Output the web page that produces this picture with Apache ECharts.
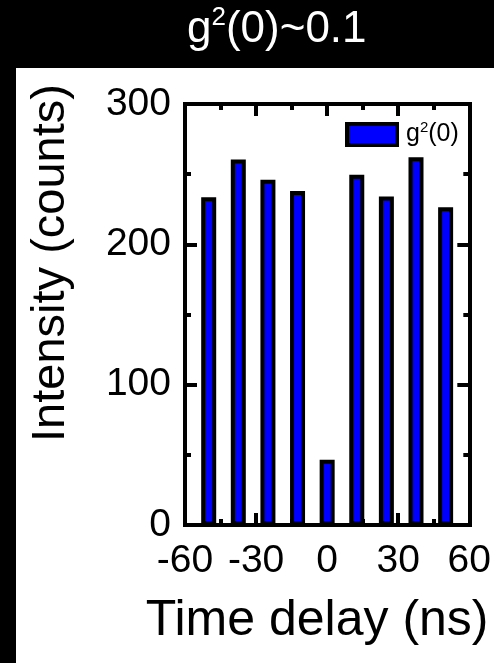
<!DOCTYPE html>
<html>
<head>
<meta charset="utf-8">
<script src="https://cdn.jsdelivr.net/npm/echarts@6/dist/echarts.min.js"></script>
<style>html,body{margin:0;padding:0;background:#000;}#c{width:494px;height:663px;}</style>
</head>
<body>
<div id="c"></div>
<script>
var delays = [-50, -37.5, -25, -12.5, 0, 12.5, 25, 37.5, 50];
var counts = [233.5, 260.5, 246, 238, 46.5, 249.5, 234, 262, 226.5];
var xTicks = [-60, -30, 0, 30, 60];
var yTicks = [0, 100, 200, 300];

var FONT = '"Liberation Sans", Arial, sans-serif';
var chart = echarts.init(document.getElementById('c'), null, {renderer: 'canvas'});
var data = delays.map(function (d, i) { return [d, counts[i]]; });
var tickStyle = {show: true, inside: true, length: 12, lineStyle: {color: '#000', width: 4}};
var minorStyle = {show: true, splitNumber: 2, length: 6, lineStyle: {color: '#000', width: 4}};
var lineStyle = {show: true, onZero: false, lineStyle: {color: '#000', width: 4, cap: 'square'}};

chart.setOption({
  backgroundColor: '#000',
  animation: false,
  title: {
    text: '{a|g}{s|2}{a|(0)~0.1}',
    left: 187, top: 5,
    padding: 0,
    textStyle: {
      fontWeight: 'normal',
      rich: {
        a: {fontFamily: FONT, fontSize: 44, fontWeight: 'normal', color: '#fff', lineHeight: 50},
        s: {fontFamily: FONT, fontSize: 26, fontWeight: 'normal', color: '#fff', verticalAlign: 'top', lineHeight: 40}
      }
    }
  },
  graphic: [{
    type: 'rect', left: 16, top: 68, z: -100,
    shape: {width: 478, height: 595},
    style: {fill: '#fff'}
  }],
  legend: {
    left: 345, top: 120, padding: 0,
    itemWidth: 50, itemHeight: 21,
    icon: 'rect',
    itemStyle: {borderWidth: 4, borderColor: '#000'},
    data: ['g2(0)'],
    formatter: function () { return '{p|}{a|g}{s|2}{a|(0)}'; },
    textStyle: {
      rich: {
        p: {width: 4},
        a: {fontFamily: FONT, fontSize: 25, color: '#000', lineHeight: 29},
        s: {fontFamily: FONT, fontSize: 15, color: '#000', verticalAlign: 'top', lineHeight: 20}
      }
    }
  },
  grid: {left: 185, right: 16, top: 104, bottom: 138, containLabel: false},
  xAxis: [{
    type: 'value', position: 'bottom', min: -60, max: 60, interval: 30,
    axisLine: lineStyle, axisTick: tickStyle, minorTick: minorStyle,
    splitLine: {show: false},
    axisLabel: {color: '#000', fontFamily: FONT, fontSize: 39, margin: 17,
      formatter: function (v) { return xTicks.indexOf(v) >= 0 ? String(v) : ''; }},
    name: 'Time delay (ns)', nameLocation: 'middle', nameGap: 71,
    nameTextStyle: {color: '#000', fontFamily: FONT, fontSize: 50, padding: [0, 20, 0, 0]}
  }, {
    type: 'value', position: 'top', min: -60, max: 60, interval: 30,
    axisLine: lineStyle, axisTick: tickStyle, minorTick: minorStyle,
    splitLine: {show: false}, axisLabel: {show: false}
  }],
  yAxis: [{
    type: 'value', position: 'left', min: 0, max: 300, interval: 100,
    axisLine: lineStyle, axisTick: tickStyle, minorTick: minorStyle,
    splitLine: {show: false},
    axisLabel: {color: '#000', fontFamily: FONT, fontSize: 39, margin: 14,
      formatter: function (v) { return yTicks.indexOf(v) >= 0 ? String(v) : ''; }},
    name: 'Intensity (counts)', nameLocation: 'middle', nameGap: 110,
    nameTextStyle: {color: '#000', fontFamily: FONT, fontSize: 47, padding: [0, 0, 0, 103]}
  }, {
    type: 'value', position: 'right', min: 0, max: 300, interval: 100,
    axisLine: lineStyle, axisTick: tickStyle, minorTick: minorStyle,
    splitLine: {show: false}, axisLabel: {show: false}
  }],
  series: [{
    name: 'g2(0)', type: 'bar', xAxisIndex: 0, yAxisIndex: 0,
    barWidth: 15,
    itemStyle: {color: '#0000ff', borderColor: '#000', borderWidth: 4},
    data: data
  }]
});
</script>
</body>
</html>
